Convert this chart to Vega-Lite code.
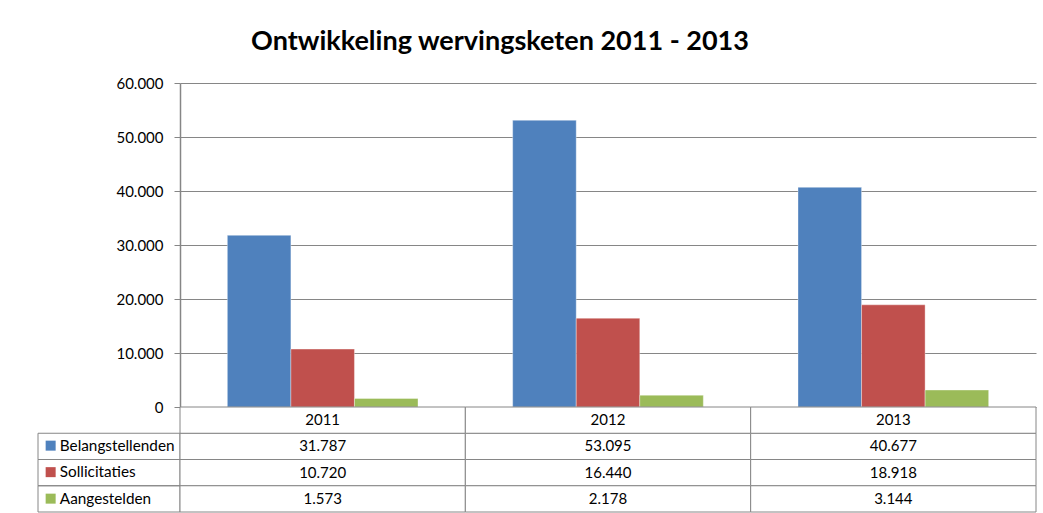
{
  "$schema": "https://vega.github.io/schema/vega-lite/v6.json",
  "background": "white",
  "padding": {"left": 37, "top": 28, "right": 0, "bottom": 0},
  "title": {
    "text": "Ontwikkeling wervingsketen 2011 - 2013",
    "font": "Lato",
    "fontSize": 27,
    "fontWeight": "bold",
    "color": "#000000",
    "anchor": "middle",
    "dx": -37,
    "offset": 20
  },
  "config": {
    "view": {"stroke": null},
    "locale": {"number": {"decimal": ",", "thousands": ".", "grouping": [3], "currency": ["€", ""]}},
    "font": "Lato"
  },
  "datasets": {
    "rows": [
      {"jaar": "2011", "reeks": "Belangstellenden", "aantal": 31787},
      {"jaar": "2011", "reeks": "Sollicitaties", "aantal": 10720},
      {"jaar": "2011", "reeks": "Aangestelden", "aantal": 1573},
      {"jaar": "2012", "reeks": "Belangstellenden", "aantal": 53095},
      {"jaar": "2012", "reeks": "Sollicitaties", "aantal": 16440},
      {"jaar": "2012", "reeks": "Aangestelden", "aantal": 2178},
      {"jaar": "2013", "reeks": "Belangstellenden", "aantal": 40677},
      {"jaar": "2013", "reeks": "Sollicitaties", "aantal": 18918},
      {"jaar": "2013", "reeks": "Aangestelden", "aantal": 3144}
    ]
  },
  "columns": 2,
  "spacing": 0,
  "bounds": "flush",
  "resolve": {
    "scale": {"x": "independent", "y": "independent", "color": "independent"},
    "legend": {"color": "independent"}
  },
  "concat": [
    {
      "width": 142,
      "height": 324,
      "data": {"values": []},
      "mark": "rect",
      "encoding": {}
    },
    {
      "width": 856,
      "height": 324,
      "data": {"name": "rows"},
      "mark": {"type": "bar", "stroke": "white", "strokeOpacity": 0.35, "strokeWidth": 1},
      "encoding": {
        "x": {"field": "jaar", "type": "nominal", "scale": {"paddingInner": 0, "paddingOuter": 0}, "axis": null},
        "xOffset": {
          "field": "reeks", "type": "nominal",
          "sort": ["Belangstellenden", "Sollicitaties", "Aangestelden"],
          "scale": {"paddingInner": 0, "paddingOuter": 0.745}
        },
        "y": {
          "field": "aantal", "type": "quantitative",
          "scale": {"domain": [0, 60000], "nice": false},
          "axis": {
            "title": null,
            "values": [0, 10000, 20000, 30000, 40000, 50000, 60000],
            "format": ",d",
            "domainColor": "#868686",
            "domainWidth": 1.5,
            "tickColor": "#868686",
            "tickSize": 6,
            "gridColor": "#868686",
            "gridWidth": 1,
            "labelFont": "Lato",
            "labelFontSize": 15,
            "labelColor": "#000000",
            "labelPadding": 11
          }
        },
        "color": {
          "field": "reeks", "type": "nominal",
          "scale": {
            "domain": ["Belangstellenden", "Sollicitaties", "Aangestelden"],
            "range": ["#4F81BD", "#C0504D", "#9BBB59"]
          },
          "legend": {
            "title": null,
            "orient": "none",
            "legendX": -137,
            "legendY": 355,
            "direction": "vertical",
            "symbolType": "square",
            "symbolSize": 100,
            "symbolStrokeWidth": 0,
            "labelFont": "Lato",
            "labelFontSize": 15.3,
            "labelColor": "#000000",
            "labelOffset": 1.5,
            "rowPadding": 10.5,
            "padding": 0
          }
        }
      }
    },
    {
      "width": 142,
      "height": 105,
      "data": {"name": "rows"},
      "transform": [{"filter": "datum.jaar === '2011'"}],
      "mark": {"type": "rect", "fill": "white", "fillOpacity": 0, "stroke": "#868686", "strokeWidth": 1},
      "encoding": {
        "y": {
          "field": "reeks", "type": "nominal",
          "scale": {"domain": ["Jaar", "Belangstellenden", "Sollicitaties", "Aangestelden"], "paddingInner": 0, "paddingOuter": 0},
          "axis": null
        }
      }
    },
    {
      "width": 856,
      "height": 105,
      "data": {"name": "rows"},
      "encoding": {
        "x": {"field": "jaar", "type": "nominal", "scale": {"paddingInner": 0, "paddingOuter": 0}, "axis": null}
      },
      "layer": [
        {
          "mark": {"type": "rect", "fill": "white", "stroke": "#868686", "strokeWidth": 1},
          "encoding": {
            "y": {
              "field": "reeks", "type": "nominal",
              "scale": {"domain": ["Jaar", "Belangstellenden", "Sollicitaties", "Aangestelden"], "paddingInner": 0, "paddingOuter": 0},
              "axis": null
            }
          }
        },
        {
          "transform": [{"filter": "datum.reeks === 'Belangstellenden'"}],
          "mark": {"type": "rect", "fill": "white", "stroke": "#868686", "strokeWidth": 1},
          "encoding": {"y": {"datum": "Jaar", "type": "nominal"}}
        },
        {
          "mark": {"type": "text", "font": "Lato", "fontSize": 15, "color": "#000000"},
          "encoding": {
            "y": {"field": "reeks", "type": "nominal"},
            "text": {"field": "aantal", "type": "quantitative", "format": ",d"}
          }
        },
        {
          "transform": [{"filter": "datum.reeks === 'Belangstellenden'"}],
          "mark": {"type": "text", "font": "Lato", "fontSize": 15, "color": "#000000"},
          "encoding": {
            "y": {"datum": "Jaar", "type": "nominal"},
            "text": {"field": "jaar", "type": "nominal"}
          }
        }
      ]
    }
  ]
}
